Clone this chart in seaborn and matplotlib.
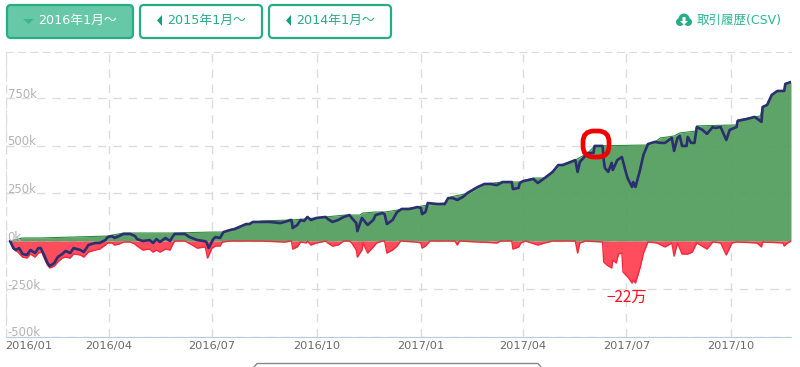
import matplotlib
matplotlib.use("Agg")
import matplotlib.pyplot as plt
import seaborn as sns
from matplotlib.patches import FancyBboxPatch, Polygon, Circle

sns.set_style("white")
plt.rcParams['font.family'] = ['Noto Sans CJK JP', 'DejaVu Sans']

# days since 2016-01-01, values in thousands
equity_days = [4, 7, 9, 12, 15, 19, 22, 26, 29, 31, 34, 37, 39, 43, 46, 50, 53, 57, 60, 66, 69, 73, 79, 83, 88, 90, 94, 96, 100, 104,
               110, 114, 116, 121, 127, 130, 133, 136, 141, 145, 147, 149, 158, 162, 169, 175, 177, 179, 183, 185, 189, 192, 198, 202, 212, 215, 218, 226,
               233, 242, 246, 251, 252, 253, 257, 260, 263, 266, 269, 274, 282, 284, 288, 293, 298, 303, 305, 309, 310, 314, 319, 324, 326, 332, 334, 336,
               341, 345, 349, 356, 363, 366, 367, 370, 372, 380, 387, 390, 394, 398, 403, 407, 416, 422, 427, 433, 438, 444, 446, 447, 452, 453, 456,
               465, 469, 475, 482, 487, 491, 502, 504, 506, 513, 518, 519, 526, 527, 528, 531, 534, 535, 539, 543, 546, 548, 552, 553, 555, 559, 562, 566,
               572, 577, 581, 587, 589, 592, 594, 596, 600, 601, 604, 607, 609, 614, 618, 623, 625, 630, 635, 638, 644, 645, 653, 660, 666, 667, 671, 675, 680, 686, 687, 692]
equity_k = [0, -37, -47, -37, -68, -73, -47, -63, -37, -37, -73, -115, -131, -115, -84, -68, -52, -63, -37, -47, -58, -21, -10, -10, 5, 21, 26, 16, 26, 37,
            37, 26, 10, 0, 5, -10, 10, -5, 16, 0, 21, 37, 37, 21, 5, 0, -5, -37, 10, 21, 16, 47, 58, 63, 89, 89, 100, 100,
            100, 94, 100, 110, 110, 68, 84, 110, 105, 126, 110, 121, 126, 115, 100, 110, 126, 136, 121, 94, 52, 121, 84, 110, 136, 147, 141, 89,
            110, 152, 168, 168, 178, 173, 141, 152, 199, 194, 194, 225, 225, 215, 231, 252, 283, 299, 299, 293, 309, 309, 309, 272, 278, 304, 314,
            325, 304, 330, 362, 398, 398, 424, 362, 414, 461, 461, 498, 498, 424, 383, 362, 409, 372, 424, 440, 372, 330, 283, 309, 283, 372, 451, 508,
            519, 514, 514, 540, 472, 540, 550, 498, 498, 545, 514, 514, 597, 582, 561, 597, 592, 597, 529, 582, 597, 629, 639, 650, 624, 702, 713, 765, 786, 786, 823, 833]

peak_days = [4, 15, 30, 90, 104, 147, 182, 192, 200, 212, 226, 251, 263, 299, 312, 315, 326, 334, 363, 366, 387, 392, 409, 422, 438, 453, 465, 475, 482, 489,
             502, 513, 519, 566, 572, 577, 589, 594, 608, 609, 644, 645, 665, 667, 671, 675, 680, 686, 687, 692]
peak_k = [0, 16, 16, 26, 42, 42, 47, 47, 63, 89, 105, 110, 115, 136, 136, 147, 152, 152, 178, 183, 199, 231, 252, 299, 309, 309, 330, 330, 362, 398,
          424, 461, 498, 503, 519, 540, 550, 566, 576, 603, 608, 634, 655, 702, 713, 765, 786, 786, 823, 833]

drawdown_days = [4, 7, 11, 15, 19, 22, 26, 29, 32, 34, 37, 39, 43, 46, 50, 53, 57, 60, 66, 69, 73, 79, 83, 88, 90, 94, 96, 100, 104,
                 110, 114, 116, 121, 127, 130, 133, 136, 141, 145, 147, 149, 158, 163, 169, 176, 178, 182, 185, 189, 191, 198, 224, 246,
                 252, 253, 257, 260, 265, 266, 269, 274, 282, 284, 288, 293, 298, 303, 305, 309, 310, 314, 315, 319, 324, 327, 332, 334, 336,
                 341, 345, 348, 361, 366, 367, 370, 374, 396, 398, 400, 433, 436, 446, 447, 452, 454, 458, 469, 475, 482, 502, 504, 506, 511,
                 526, 527, 530, 534, 535, 538, 540, 543, 544, 549, 552, 553, 555, 559, 562, 566, 574, 581, 587, 589, 592, 596, 601, 605, 609,
                 618, 623, 630, 635, 640, 644, 662, 666, 667, 685, 686, 689, 692]
drawdown_k = [0, -42, -58, -84, -89, -68, -84, -63, -58, -89, -126, -141, -131, -110, -89, -84, -89, -68, -73, -84, -58, -47, -42, -21, -10, -10, -21, -16, -5,
              -5, -16, -26, -47, -42, -58, -47, -58, -42, -47, -21, 0, 0, -16, -37, -31, -89, -37, -26, -26, -5, 0, 0, -5,
              0, -42, -31, -5, -10, 0, -21, -10, 0, -10, -26, -21, 0, 0, -10, -47, -84, -47, -10, -63, -31, -10, 0, 0, -63,
              -47, -26, 0, -5, -10, -37, -26, 0, 0, -21, 0, -10, 0, 0, -42, -31, -10, 0, -21, -10, 0, 0, -63, -10, 0,
              -5, -110, -126, -141, -100, -115, -68, -63, -162, -194, -220, -204, -220, -141, -63, -5, -10, -31, -10, -79, -10, -68, -68, -58, -10,
              -42, -5, -10, -73, -10, -5, -10, -31, -5, -10, -26, -10, 0]

y_ticks = [-500, -250, 0, 250, 500, 750]
y_labels = ['-500k', '-250k', '0k', '250k', '500k', '750k']
x_ticks = [0, 91, 182, 274, 366, 456, 547, 639]
x_labels = ['2016/01', '2016/04', '2016/07', '2016/10', '2017/01', '2017/04', '2017/07', '2017/10']
buttons = ['2016年1月～', '2015年1月～', '2014年1月～']

teal = '#27ad86'
W, H = 800, 367
fig = plt.figure(figsize=(W / 100, H / 100), dpi=100)
ax = fig.add_axes([5.5 / W, 1 - 336.5 / H, 785.5 / W, 284.5 / H])

ax.grid(True, color='#dcdcdc', ls=(0, (6, 5)), lw=1)
ax.set_axisbelow(True)
ax.fill_between(peak_days, 0, peak_k, color='#559f60', alpha=0.95, lw=0, zorder=2)
ax.plot(peak_days, peak_k, color='#2f8a3c', lw=0.8, zorder=2.1)
ax.fill_between(drawdown_days, 0, drawdown_k, color='#ff4d5e', lw=0, zorder=2)
ax.plot(drawdown_days, drawdown_k, color='#f22a3c', lw=1, zorder=2.1)
sns.lineplot(x=equity_days, y=equity_k, color='#2b2f70', lw=1.9, ax=ax, estimator=None, sort=False, zorder=3)

ax.set_xlim(0, 692)
ax.set_ylim(-500, 990)
ax.set_yticks(y_ticks)
ax.set_yticklabels([])
ax.set_xticks(x_ticks)
ax.set_xticklabels(x_labels, fontsize=8.2, color='#6a6a6a', family=['DejaVu Sans'])
ax.tick_params(axis='x', length=0, pad=3.5)
ax.tick_params(axis='y', length=0)
ax.get_xticklabels()[0].set_ha('left')
ax.spines['right'].set_visible(False)
ax.spines['bottom'].set_color('#b9cbe0')
ax.spines['top'].set_color('#dcdcdc')
ax.spines['top'].set_linestyle((0, (6, 5)))
ax.spines['left'].set_color('#dcdcdc')
ax.spines['left'].set_linestyle((0, (6, 5)))
for t, lab in zip(y_ticks, y_labels):
    ax.annotate(lab, (0, t), xytext=(1.5, -2), textcoords='offset points', fontsize=8.4, color='#b3b3b3',
                family=['DejaVu Sans'], va='bottom', ha='left', zorder=4)

# page furniture around the chart, laid out in pixels
ov = fig.add_axes([0, 0, 1, 1], facecolor='none')
ov.set_xlim(0, W)
ov.set_ylim(H, 0)
ov.axis('off')

boxes = [(7, 126, True), (140, 122, False), (269, 122, False)]
for (x0, w, active), txt in zip(boxes, buttons):
    ov.add_patch(FancyBboxPatch((x0 + 3, 8), w - 6, 27, boxstyle='round,pad=3,rounding_size=4',
                                fc='#66c8a6' if active else 'white', ec=teal, lw=1.6))
    if active:
        ov.add_patch(Polygon([[x0 + 16, 19], [x0 + 27, 19], [x0 + 21.5, 24]], fc='#3fb490', ec='none'))
    else:
        ov.add_patch(Polygon([[x0 + 22, 15], [x0 + 22, 26], [x0 + 17, 20.5]], fc='#12a07c', ec='none'))
    ov.text(x0 + (31 if active else 27), 20.5, txt, fontsize=9.2, color='white' if active else teal, va='center', ha='left',
            family=['DejaVu Sans', 'Noto Sans CJK JP'])

# download cloud
for cx, cy, r in [(680, 22, 4), (684, 19, 5.5), (688, 22, 4)]:
    ov.add_patch(Circle((cx, cy), r, fc=teal, ec='none'))
ov.add_patch(Polygon([[682.5, 17], [685.5, 17], [685.5, 21], [688, 21], [684, 25], [680, 21], [682.5, 21]], fc='white', ec='none'))
ov.text(697, 20.5, '取引履歴(CSV)', fontsize=9, color='#2bb893', va='center', ha='left',
        family=['DejaVu Sans', 'Noto Sans CJK JP'])

# hand drawn marks
ov.add_patch(FancyBboxPatch((589, 137), 14, 14, boxstyle='round,pad=6,rounding_size=11', fc='none', ec='#f00000', lw=3.4))
ov.text(606, 297, '−22万', fontsize=11, color='#ff1020', va='center', ha='left')

ov.plot([254, 257, 538, 541], [367, 363.5, 363.5, 367], color='#8a8a8a', lw=1)

fig.savefig('out.png', dpi=100)
